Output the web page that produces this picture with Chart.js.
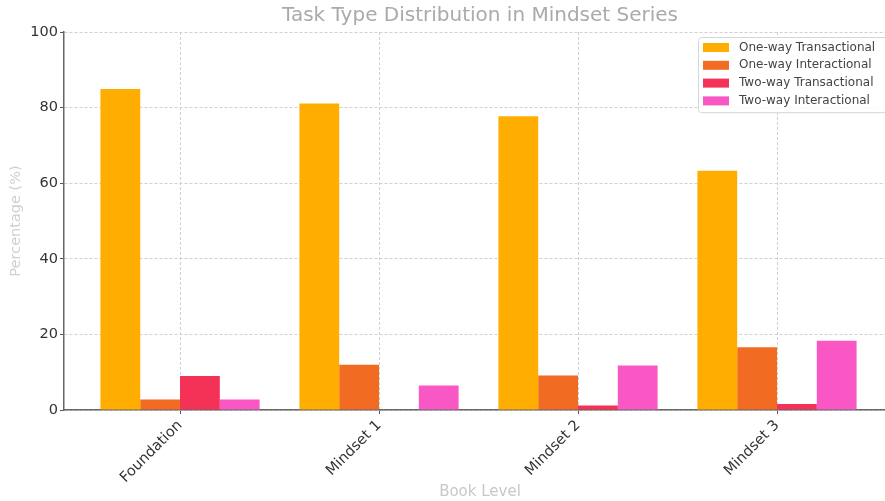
<!DOCTYPE html>
<html>
<head>
<meta charset="utf-8">
<script src="https://cdn.jsdelivr.net/npm/chart.js@4"></script>
<style>
  html, body { margin: 0; padding: 0; background: #fff; overflow: hidden; }
  #wrap { width: 960px; height: 501px; }
</style>
</head>
<body>
<div id="wrap"><canvas id="mycanvas" width="960" height="501"></canvas></div>
<script>
// chart data
var bookLevels = ["Foundation", "Mindset 1", "Mindset 2", "Mindset 3"];
var oneWayTransactional = [84.9, 81.1, 77.7, 63.3];
var oneWayInteractional = [2.8, 12.0, 9.1, 16.6];
var twoWayTransactional = [9.0, 0, 1.2, 1.6];
var twoWayInteractional = [2.8, 6.5, 11.8, 18.3];
var yTicks = [0, 20, 40, 60, 80, 100];

function toPoints(values) {
  return values.map(function (v, i) { return { x: i, y: v }; });
}

// legend drawn inside the plot, upper right
var innerLegend = {
  id: 'innerLegend',
  afterLayout: function (chart) {
    // centre the title over the whole (wider) canvas
    if (chart.titleBlock) { chart.titleBlock.left = 0; chart.titleBlock.right = chart.width; }
  },
  afterDraw: function (chart) {
    var ctx = chart.ctx;
    var area = chart.chartArea;
    var sets = chart.data.datasets;
    var w = 193, rowH = 17.8;
    var h = sets.length * rowH + 4;
    var x0 = area.right - 5 - w, y0 = area.top + 5;
    ctx.save();
    ctx.fillStyle = 'rgba(255,255,255,0.85)';
    ctx.strokeStyle = '#d6d6d6';
    ctx.lineWidth = 1;
    ctx.beginPath();
    ctx.roundRect(x0 + 0.5, y0 + 0.5, w, h, 3);
    ctx.fill();
    ctx.stroke();
    ctx.font = '12px "DejaVu Sans"';
    ctx.textBaseline = 'middle';
    sets.forEach(function (ds, i) {
      var cy = y0 + 10.5 + i * rowH;
      ctx.fillStyle = ds.backgroundColor;
      ctx.fillRect(x0 + 5, cy - 4.5, 26, 9);
      ctx.fillStyle = '#444';
      ctx.fillText(ds.label, x0 + 41, cy);
    });
    ctx.restore();
  }
};

var ctx = document.getElementById("mycanvas").getContext("2d");
var chartConfig = {
  type: 'bar',
  data: {
    datasets: [
      { label: "One-way Transactional", data: toPoints(oneWayTransactional), backgroundColor: "#FFAD00" },
      { label: "One-way Interactional", data: toPoints(oneWayInteractional), backgroundColor: "#F26B23" },
      { label: "Two-way Transactional", data: toPoints(twoWayTransactional), backgroundColor: "#F43157" },
      { label: "Two-way Interactional", data: toPoints(twoWayInteractional), backgroundColor: "#F958C4" }
    ]
  },
  options: {
    responsive: false,
    animation: false,
    layout: { padding: { left: 0, right: 64, top: 0, bottom: 0 } },
    datasets: { bar: { categoryPercentage: 0.8, barPercentage: 1.0, borderWidth: 0 } },
    plugins: {
      legend: { display: false },
      tooltip: { enabled: false },
      title: {
        display: true,
        text: "Task Type Distribution in Mindset Series",
        color: '#aaaaaa',
        font: { family: 'DejaVu Sans', size: 20, weight: 'normal', lineHeight: 1.2 },
        padding: { top: 4, bottom: 4 }
      }
    },
    scales: {
      x: {
        type: 'linear',
        offset: false,
        min: -0.583,
        max: 3.598,
        afterBuildTicks: function (axis) {
          axis.ticks = bookLevels.map(function (c, i) { return { value: i }; });
        },
        afterFit: function (axis) { axis.height = 91; },
        ticks: {
          autoSkip: false,
          minRotation: 45,
          maxRotation: 45,
          padding: 3,
          color: '#333',
          font: { family: 'DejaVu Sans', size: 14.5 },
          callback: function (value) { return bookLevels[value]; }
        },
        grid: { offset: false, color: '#d0d0d0', lineWidth: 1, tickLength: 4, tickColor: '#555', tickBorderDash: [] },
        border: { display: true, color: '#666', width: 1.5, dash: [3, 2] },
        title: {
          display: true,
          text: "Book Level",
          color: '#c8c8c8',
          font: { family: 'DejaVu Sans', size: 15 },
          padding: { top: 0, bottom: 0 }
        }
      },
      y: {
        min: 0,
        max: 100,
        afterBuildTicks: function (axis) {
          axis.ticks = yTicks.map(function (v) { return { value: v }; });
        },
        afterFit: function (axis) { axis.width = 64; },
        ticks: {
          padding: 2,
          color: '#333',
          font: { family: 'DejaVu Sans', size: 14.5 }
        },
        grid: { color: '#d0d0d0', lineWidth: 1, tickLength: 4, tickColor: '#555', tickBorderDash: [] },
        border: { display: true, color: '#666', width: 1.5, dash: [3, 2] },
        title: {
          display: true,
          text: "Percentage (%)",
          color: '#d0d0d0',
          font: { family: 'DejaVu Sans', size: 14.5 },
          padding: { top: 8, bottom: 0 }
        }
      }
    }
  },
  plugins: [innerLegend]
};
var newChart = new Chart(ctx, chartConfig);
</script>
</body>
</html>
